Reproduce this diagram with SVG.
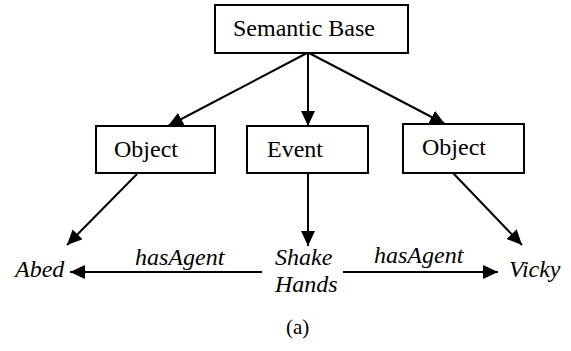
<svg xmlns="http://www.w3.org/2000/svg" width="571" height="351" viewBox="0 0 571 351">
<defs>
<style>
text{font-family:'Liberation Serif','Times New Roman','DejaVu Serif',serif;font-size:24px;fill:#000}
.it{font-style:italic}
.box{fill:#fff;stroke:#000;stroke-width:2}
.edge{stroke:#000;stroke-width:2;fill:none;marker-end:url(#ah)}
</style>
<marker id="ah" markerUnits="userSpaceOnUse" markerWidth="16" markerHeight="14" refX="15" refY="7" orient="auto">
<path d="M0,0 L15,7 L0,14 z" fill="#000"/>
</marker>
</defs>
<rect width="571" height="351" fill="#fff"/>
<g id="connectors">
<line class="edge" x1="307" y1="53" x2="168" y2="126"/>
<line class="edge" x1="308" y1="53" x2="308" y2="126"/>
<line class="edge" x1="309" y1="53" x2="445" y2="124"/>
<line class="edge" x1="137" y1="174" x2="67" y2="245"/>
<line class="edge" x1="308" y1="173" x2="308" y2="246"/>
<line class="edge" x1="453" y1="173" x2="522" y2="245"/>
<line class="edge" x1="262" y1="272" x2="70" y2="272"/>
<line class="edge" x1="343" y1="272" x2="498" y2="272"/>
</g>
<g id="semantic-base">
<rect class="box" x="215" y="5" width="193" height="48"/>
<text x="233" y="36">Semantic Base</text>
</g>
<g id="object-left">
<rect class="box" x="96" y="126" width="119" height="47"/>
<text x="114" y="157">Object</text>
</g>
<g id="event">
<rect class="box" x="247" y="126" width="121" height="47"/>
<text x="267" y="157">Event</text>
</g>
<g id="object-right">
<rect class="box" x="403" y="124" width="121" height="49"/>
<text x="422" y="155">Object</text>
</g>
<g id="abed">
<text class="it" x="15" y="277">Abed</text>
</g>
<g id="shake-hands">
<text class="it" x="275" y="265">Shake</text>
<text class="it" x="275" y="292">Hands</text>
</g>
<g id="vicky">
<text class="it" x="509" y="277">Vicky</text>
</g>
<g id="labels">
<text class="it" x="135" y="265">hasAgent</text>
<text class="it" x="374" y="263">hasAgent</text>
<text x="286" y="334" style="font-size:21px">(a)</text>
</g>
</svg>
